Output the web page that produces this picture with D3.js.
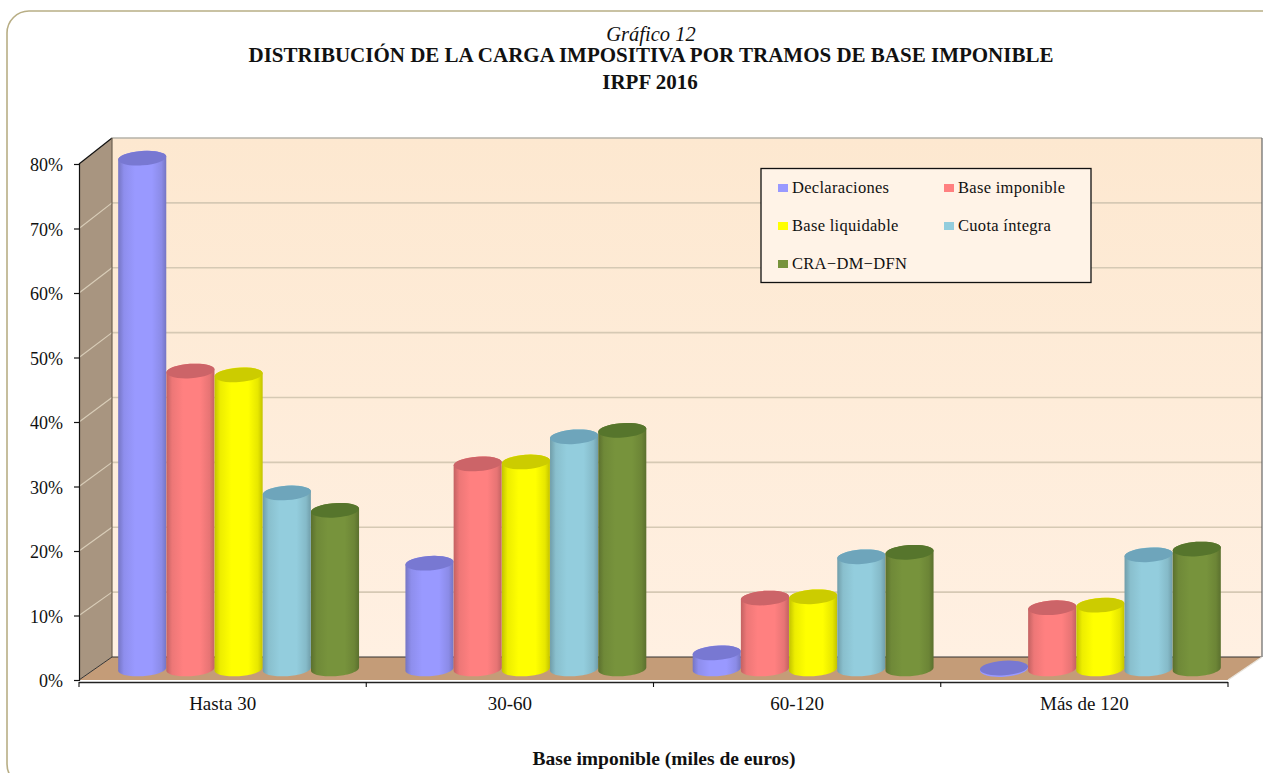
<!DOCTYPE html>
<html><head><meta charset="utf-8">
<script src="https://cdn.jsdelivr.net/npm/d3@7/dist/d3.min.js"></script>
<style>html,body{margin:0;padding:0;background:#fff;overflow:hidden}svg{display:block}text{font-family:"Liberation Serif",serif;fill:#111}</style>
</head><body><div id="c"></div>
<script>
const categories=["Hasta 30","30-60","60-120","Más de 120"];
const seriesNames=["Declaraciones","Base imponible","Base liquidable","Cuota íntegra","CRA−DM−DFN"];
const declaraciones=[79.2,16.4,2.5,0.3];
const baseImponible=[46.2,31.8,11.0,9.5];
const baseLiquidable=[45.6,32.1,11.2,9.9];
const cuotaIntegra=[27.3,36.0,17.4,17.7];
const cra=[24.6,37.0,18.1,18.6];
const seriesValues=[declaraciones,baseImponible,baseLiquidable,cuotaIntegra,cra];
const colors=["#9999ff","#ff8080","#ffff00","#93cddd","#77933c"];
const topColors=["#7878d2","#cc6468","#cccc00","#6ea5bb","#56752c"];
const yTicks=[0,10,20,30,40,50,60,70,80];

const W=1263,H=773;
const svg=d3.select("#c").append("svg").attr("width",W).attr("height",H);
const defs=svg.append("defs");
colors.forEach((c,i)=>{
  const g=defs.append("linearGradient").attr("id","g"+i);
  const d=d3.color(c).darker(.75),l=d3.color(c);
  [[0,d],[.12,d3.interpolateRgb(d,l)(.7)],[.35,l],[.7,l],[.9,d3.interpolateRgb(d,l)(.6)],[1,d]].forEach(s=>g.append("stop").attr("offset",s[0]).attr("stop-color",s[1]));
});
const wg=defs.append("linearGradient").attr("id","wall").attr("x1",0).attr("x2",0).attr("y1",0).attr("y2",1);
wg.append("stop").attr("offset",0).attr("stop-color","#fde8d0");
wg.append("stop").attr("offset",1).attr("stop-color","#fff0e2");

// panel
svg.append("rect").attr("x",7).attr("y",11).attr("width",1340).attr("height",775).attr("rx",22)
  .attr("fill","#fff").attr("stroke","#b8ae85").attr("stroke-width",1.6);

// scales
const yFront=d3.scaleLinear().domain([0,80]).range([680,164]);
const yBack=d3.scaleLinear().domain([0,80]).range([657,138]);
const yBar=d3.scaleLinear().domain([0,80]).range([669,153]);
const xFront=d3.scaleBand().domain(categories).range([79,1228]);
const xBack=d3.scaleBand().domain(categories).range([112,1262]);
const xBar=d3.scaleBand().domain(categories).range([95,1244]);
const xSeries=d3.scaleBand().domain(seriesNames).range([-120.5,120.5]);

const x0=xFront.range()[0],x1=xFront.range()[1],bx0=xBack.range()[0],bx1=xBack.range()[1];
const yb0=yBack(0),yb1=yBack(80),yf0=yFront(0),yf1=yFront(80);

// walls
svg.append("polygon").attr("points",[[bx0,yb1],[bx1,yb1],[bx1,yb0],[bx0,yb0]].join(" ")).attr("fill","url(#wall)");
svg.append("polygon").attr("points",[[x0,yf1],[bx0,yb1],[bx0,yb0],[x0,yf0]].join(" ")).attr("fill","#a89580");
svg.append("polygon").attr("points",[[x0,yf0],[bx0,yb0],[bx1,yb0],[x1,yf0]].join(" ")).attr("fill","#c49c78");
// gridlines
yTicks.filter(d=>d>0).forEach(d=>{
  svg.append("line").attr("x1",bx0).attr("x2",bx1).attr("y1",yBack(d)).attr("y2",yBack(d)).attr("stroke",d===80?"#b4b2a8":"#d6c9b4").attr("stroke-width",1.6);
  if(d<80) svg.append("line").attr("x1",x0).attr("x2",bx0).attr("y1",yFront(d)).attr("y2",yBack(d)).attr("stroke","#d9cdb8").attr("stroke-width",1.2);
});
// wall edges
svg.append("path").attr("d",`M${x0},${yf1}L${bx0},${yb1}`).attr("stroke","#111").attr("stroke-width",1.2).attr("fill","none");
svg.append("path").attr("d",`M${bx0},${yb1}V${yb0}`).attr("stroke","#6e6252").attr("stroke-width",1.2).attr("fill","none");
svg.append("path").attr("d",`M${x0},${yf0}L${bx0},${yb0}H${bx1}`).attr("stroke","#333").attr("stroke-width",1).attr("fill","none");
svg.append("path").attr("d",`M${bx1},${yb1}V${yb0}`).attr("stroke","#666").attr("stroke-width",1.2).attr("fill","none");
svg.append("path").attr("d",`M${x1},${yf0}L${bx1},${yb0}`).attr("stroke","#e8e4dc").attr("stroke-width",1.2).attr("fill","none");

// cylinders
const rot=-4,ry=7.2,rad=rot*Math.PI/180;
const ell=(cx,cy,rx,t)=>{
  const a=rx*Math.cos(t),b=ry*Math.sin(t);
  return [cx+a*Math.cos(rad)-b*Math.sin(rad),cy+a*Math.sin(rad)+b*Math.cos(rad)];
};
const steps=d3.range(0,37).map(k=>k/36*Math.PI);
const lineGen=d3.line();
seriesNames.forEach((s,i)=>{
  const rx=xSeries.bandwidth()/2;
  const g=svg.append("g");
  categories.forEach((c,j)=>{
    const cx=xBar(c)+xBar.bandwidth()/2+xSeries(s)+rx;
    const yt=yBar(seriesValues[i][j]),yb=yBar(0);
    const h=yb-yt;
    if(h>6){
      const pts=steps.map(t=>ell(cx,yb,rx,t)).concat(steps.map(t=>ell(cx,yt,rx,t+Math.PI)));
      g.append("path").attr("fill",`url(#g${i})`).attr("d",lineGen(pts)+"Z");
    } else {
      g.append("ellipse").attr("cx",cx).attr("cy",yb).attr("rx",rx).attr("ry",ry+.6).attr("transform",`rotate(${rot} ${cx} ${yb})`).attr("fill",colors[i]);
    }
    const ty=h>6?yt:yb-1;
    g.append("ellipse").attr("cx",cx).attr("cy",ty).attr("rx",rx).attr("ry",ry).attr("transform",`rotate(${rot} ${cx} ${ty})`).attr("fill",topColors[i]);
  });
});

// axes
const axL=svg.append("g").attr("transform",`translate(${x0},0)`).call(d3.axisLeft(yFront).tickValues(yTicks).tickSize(5).tickPadding(11).tickFormat(d=>d+"%"));
axL.select(".domain").attr("stroke","#111").attr("stroke-width",1.2);
axL.selectAll("line").attr("stroke","#111").attr("stroke-width",1.2);
axL.selectAll("text").attr("font-size",18).attr("font-family","Liberation Serif").attr("fill","#111").attr("dy","0.38em");
const axB=svg.append("g").attr("transform",`translate(0,${yf0+2})`).call(d3.axisBottom(xFront).tickSize(0).tickPadding(15));
axB.select(".domain").attr("stroke","#222").attr("stroke-width",1.3).attr("d",`M${x0},0.5H${x1}`);
axB.selectAll("text").attr("font-size",19).attr("font-family","Liberation Serif").attr("fill","#111");
categories.concat(["end"]).forEach((c,i)=>{
  const x=c==="end"?x1:xFront(c);
  svg.append("line").attr("x1",x).attr("x2",x).attr("y1",yf0+2).attr("y2",yf0+7).attr("stroke","#111").attr("stroke-width",1.1);
});

// titles
const t=(s,x,y,size,o={})=>svg.append("text").attr("x",x).attr("y",y).attr("text-anchor",o.a||"middle").attr("font-size",size)
  .attr("font-style",o.i?"italic":"normal").attr("font-weight",o.b?"bold":"normal").attr("letter-spacing",o.ls||0).text(s);
t("Gráfico 12",651,41,20.5,{i:1});
t("DISTRIBUCIÓN DE LA CARGA IMPOSITIVA POR TRAMOS DE BASE IMPONIBLE",651,62,21,{b:1});
t("IRPF 2016",650,89,21,{b:1});
t("Base imponible (miles de euros)",664,765,19.5,{b:1});

// legend
const lg=svg.append("g");
lg.append("rect").attr("x",761).attr("y",168.5).attr("width",330).attr("height",114).attr("fill","#fff3e7").attr("stroke","#111").attr("stroke-width",1.3);
seriesNames.forEach((s,i)=>{
  const cx=i%2?944:778,cy=188+Math.floor(i/2)*38;
  lg.append("rect").attr("x",cx).attr("y",cy-4).attr("width",10).attr("height",8).attr("fill",colors[i]);
  t(s,cx+14,cy+5,16.5,{a:"start",ls:.3});
});
</script></body></html>
